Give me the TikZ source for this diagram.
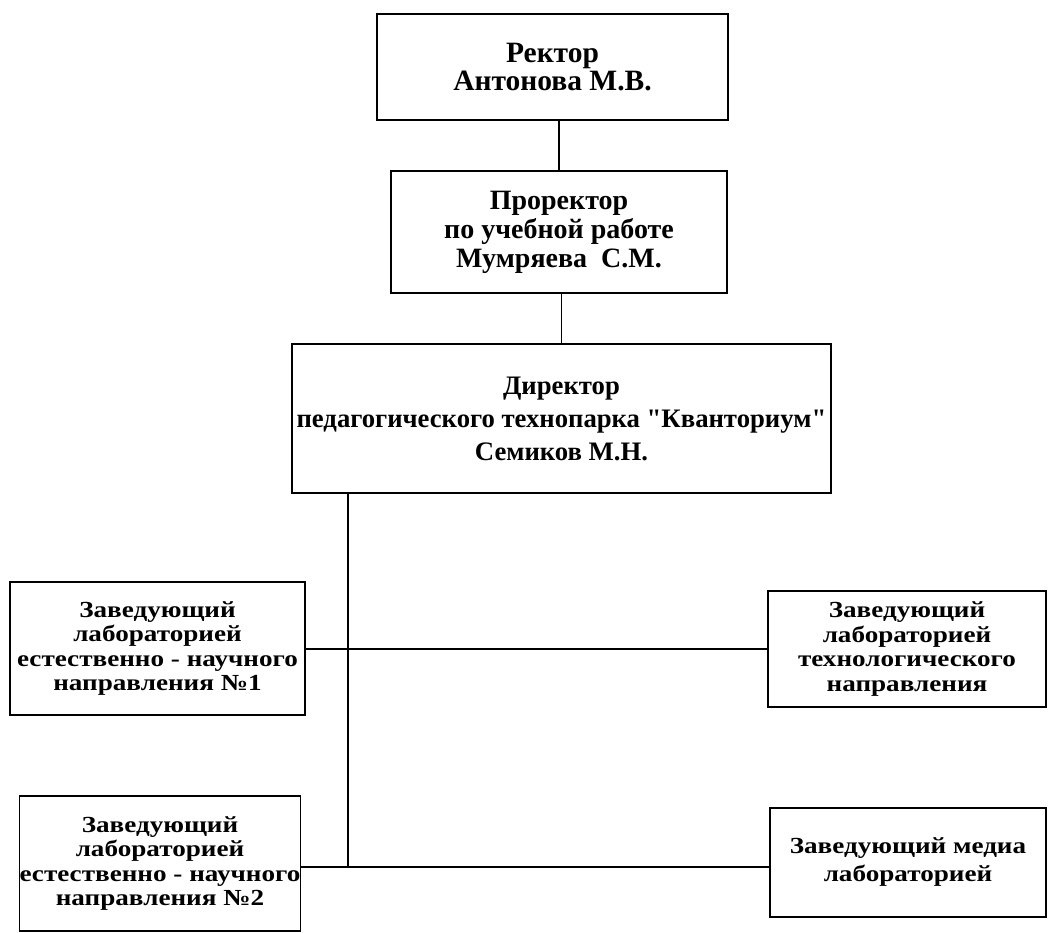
\documentclass[tikz,border=0pt]{standalone}
\usepackage{fontspec}
\setmainfont{Liberation Serif}[Ligatures=TeXOff]
\newfontfamily\labfont[FakeStretch=1.18]{Liberation Serif}
\begin{document}
\begin{tikzpicture}[x=1pt,y=-1pt,
  box/.style={draw=black, line width=1.7pt, align=center, inner sep=0pt, font=\bfseries},
  labbox/.style={box, font=\labfont\bfseries\fontsize{23}{24.5}\selectfont},
  conn/.style={draw=black, line width=1.4pt}]
\useasboundingbox[fill=white] (0,0) rectangle (1052,933);
\node[box, minimum width=351pt, minimum height=106pt, font=\bfseries\fontsize{29.5}{28.5}\selectfont] (rector) at (552.5,67) {Ректор\\Антонова М.В.};
\node[box, minimum width=336pt, minimum height=122pt, font=\bfseries\fontsize{28}{29}\selectfont] (prorector) at (559,232) {Проректор\\по учебной работе\\Мумряева\ \ С.М.};
\node[box, minimum width=539pt, minimum height=149pt, font=\bfseries\fontsize{26.7}{33}\selectfont] (director) at (561.5,418.5) {Директор\\педагогического технопарка "Кванториум"\\Семиков М.Н.};
\node[labbox, minimum width=295pt, minimum height=133pt] (lab1) at (157.5,648.5) {Заведующий\\лабораторией\\естественно - научного\\направления №1};
\node[labbox, minimum width=278pt, minimum height=116pt] (labtech) at (907,649) {Заведующий\\лабораторией\\технологического\\направления};
\node[labbox, minimum width=278pt, minimum height=135pt] (lab2) at (160,863.5) {Заведующий\\лабораторией\\естественно - научного\\направления №2};
\node[labbox, minimum width=276pt, minimum height=109pt, font=\labfont\bfseries\fontsize{23}{28}\selectfont] (media) at (908,862.5) {Заведующий медиа\\лабораторией};
\coordinate (t1) at (348,649);
\coordinate (t2) at (348,867);
\draw[conn] (prorector.north) -- (prorector.north |- rector.south);
\draw[conn] (director.north) -- (director.north |- prorector.south);
\draw[conn] (director.south -| t1) -- (t2);
\draw[conn] (lab1.east |- t1) -- (labtech.west |- t1);
\draw[conn] (lab2.east |- t2) -- (media.west |- t2);
\end{tikzpicture}
\end{document}
